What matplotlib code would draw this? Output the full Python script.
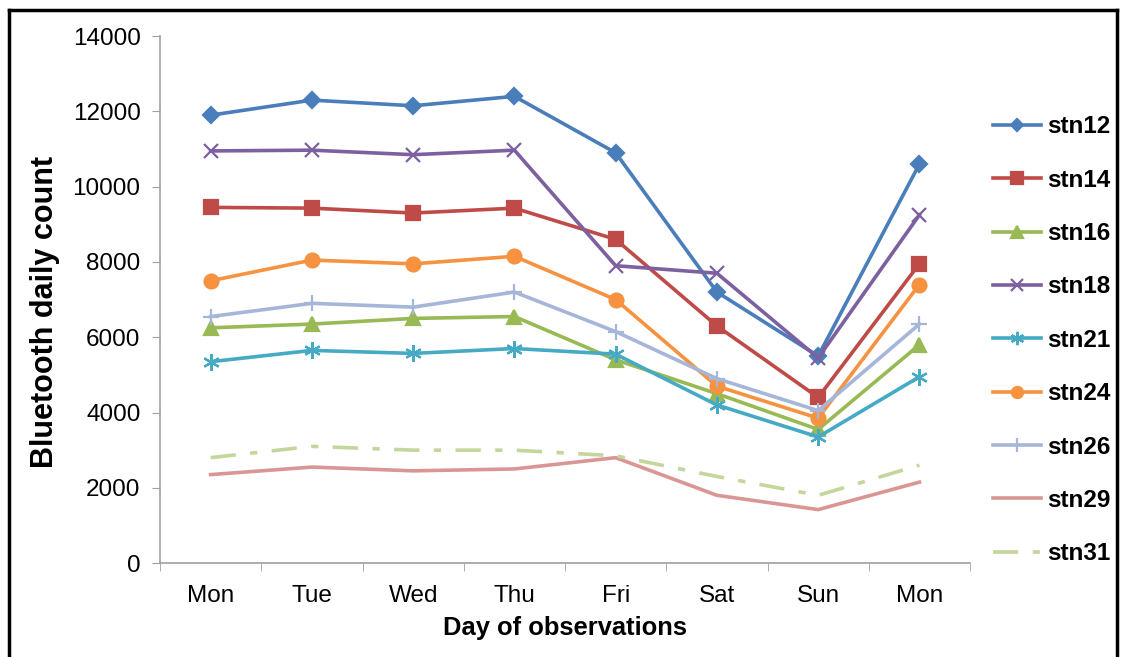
import matplotlib.pyplot as plt
from matplotlib.lines import Line2D
import numpy as np

plt.rcParams['font.family'] = ['Liberation Sans', 'DejaVu Sans']

days = ['Mon', 'Tue', 'Wed', 'Thu', 'Fri', 'Sat', 'Sun', 'Mon']

stn12 = [11900, 12300, 12150, 12400, 10900, 7200, 5500, 10600]
stn14 = [9450, 9430, 9300, 9430, 8600, 6300, 4400, 7950]
stn16 = [6250, 6350, 6500, 6550, 5400, 4500, 3550, 5800]
stn18 = [10950, 10970, 10850, 10970, 7900, 7700, 5450, 9250]
stn21 = [5350, 5650, 5570, 5700, 5550, 4200, 3350, 4950]
stn24 = [7500, 8050, 7950, 8150, 7000, 4700, 3850, 7400]
stn26 = [6550, 6900, 6800, 7200, 6150, 4900, 4050, 6350]
stn29 = [2350, 2550, 2450, 2500, 2800, 1800, 1420, 2150]
stn31 = [2800, 3100, 3000, 3000, 2850, 2300, 1800, 2600]

fig = plt.figure(figsize=(11.23, 6.57), dpi=100)
ax = fig.add_axes([0.1425, 0.143, 0.7213, 0.802])

x = np.arange(len(days))

# name, data, colour, marker, marker size, line style
series = [
    ('stn12', stn12, '#4A7EBB', 'D', 8, '-'),
    ('stn14', stn14, '#BE4B48', 's', 10, '-'),
    ('stn16', stn16, '#98B954', '^', 10, '-'),
    ('stn18', stn18, '#7D60A0', 'x', 10, '-'),
    ('stn21', stn21, '#46AAC5', (6, 2, 0), 12, '-'),
    ('stn24', stn24, '#F69240', 'o', 10, '-'),
    ('stn26', stn26, '#A5B6D9', '+', 12, '-'),
    ('stn29', stn29, '#D99694', None, 0, '-'),
    ('stn31', stn31, '#C3D69B', None, 0, (0, (7, 4, 2, 4))),
]

for name, vals, col, mk, ms, ls in series:
    ax.plot(x, vals, color=col, marker=mk, markersize=ms, linewidth=2.6,
            linestyle=ls, label=name, markeredgewidth=1.6)

ax.set_xlim(-0.5, 7.5)
ax.set_ylim(0, 14000)
ax.set_yticks(np.arange(0, 14001, 2000))
ax.set_xticks(x)
ax.set_xticklabels(days)
ax.set_xticks(np.arange(-0.5, 7.6, 1), minor=True)
ax.tick_params(axis='x', which='major', length=0, pad=16, labelsize=17.5)
ax.tick_params(axis='x', which='minor', length=6, color='#A0A0A0', direction='out')
ax.tick_params(axis='y', length=6, color='#A0A0A0', labelsize=17.5, pad=8)

for s in ['top', 'right']:
    ax.spines[s].set_visible(False)
for s in ['left', 'bottom']:
    ax.spines[s].set_color('#A0A0A0')
    ax.spines[s].set_linewidth(1.2)

ax.set_xlabel('Day of observations', fontsize=18.4, fontweight='bold', labelpad=6)
ax.set_ylabel('Bluetooth daily count', fontsize=22, fontweight='bold')
ax.yaxis.set_label_coords(-0.124, 0.476)

ax.legend(loc='center left', bbox_to_anchor=(0.884, 0.482),
          bbox_transform=fig.transFigure, frameon=False, borderpad=0,
          borderaxespad=0, prop={'weight': 'bold', 'size': 17.5},
          labelspacing=1.25, handlelength=2.0, handletextpad=0.25,
          markerscale=0.8)

# black frame round the chart
for xs, ys in [([0.008, 0.008], [0.0, 0.985]), ([0.008, 0.995], [0.985, 0.985]),
               ([0.995, 0.995], [0.0, 0.985])]:
    fig.add_artist(Line2D(xs, ys, color='black', linewidth=2.5, transform=fig.transFigure))

plt.savefig('out.png', dpi=100)
